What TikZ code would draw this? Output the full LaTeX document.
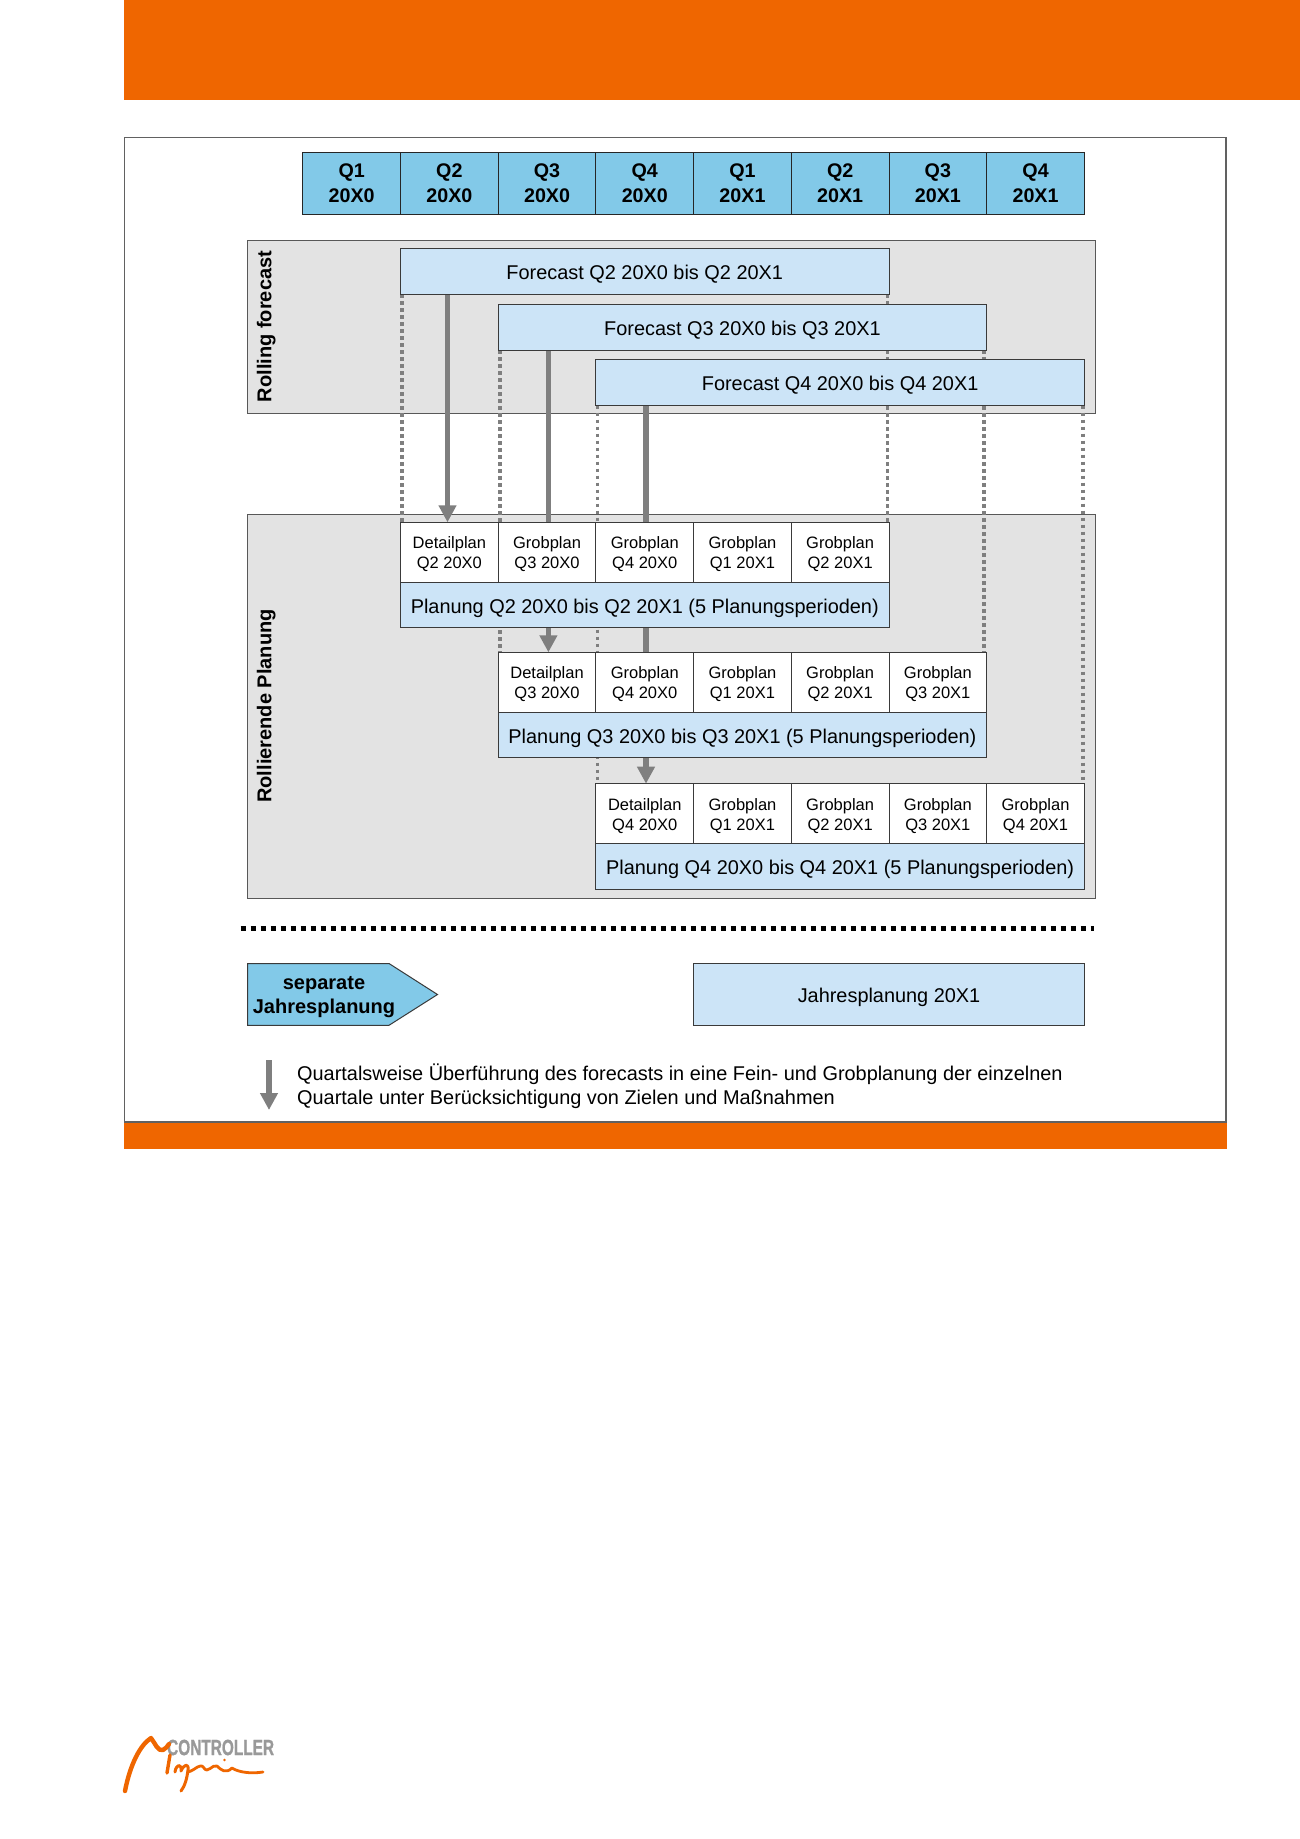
\documentclass[tikz,border=0pt]{standalone}
\usepackage{fontspec}
\setmainfont{Liberation Sans}
\usetikzlibrary{arrows.meta}
\definecolor{orng}{HTML}{EF6600}
\definecolor{hdr}{HTML}{82C9E8}
\definecolor{lblue}{HTML}{CCE4F7}
\definecolor{panel}{HTML}{E3E3E3}
\definecolor{darr}{HTML}{7F7F7F}
\definecolor{edge}{HTML}{3A3A3A}
\tikzset{
  x=1pt,y=-1pt,
  framebox/.style={draw=edge!80!white,line width=1.2pt,fill=white},
  panelbox/.style={draw=edge!85!white,line width=1pt,fill=panel,outer sep=0pt,inner sep=0pt,anchor=north west},
  qbox/.style={draw=black!85,line width=1pt,outer sep=0pt,fill=hdr,minimum width=97.7pt,minimum height=62pt,inner sep=0pt,align=center,font=\fontsize{19.7}{23.7}\selectfont\bfseries,anchor=north west},
  fcbox/.style={draw=edge,line width=1pt,outer sep=0pt,fill=lblue,minimum width=488.5pt,minimum height=46pt,inner sep=0pt,text height=16.5pt,text depth=0pt,font=\fontsize{19.9}{24}\selectfont,anchor=north west},
  cellbox/.style={draw=edge,line width=1pt,outer sep=0pt,fill=white,minimum width=97.7pt,minimum height=59.7pt,inner sep=0pt,align=center,font=\fontsize{16.5}{20}\selectfont,anchor=north west},
  planbox/.style={fcbox,minimum height=45.7pt},
  sidelabel/.style={rotate=90,font=\fontsize{20}{24}\selectfont\bfseries,inner sep=0pt},
  thickarrow/.style={draw=darr,line width=5.7pt,-{Triangle[length=17pt,width=17pt]}},
  dottedguide/.style={draw=darr,line width=3.2pt,dash pattern=on 3.5pt off 3.5pt},
  legendtext/.style={align=left,anchor=west,inner sep=0pt,font=\fontsize{19.9}{24}\selectfont},
  logostroke/.style={draw=orng,line cap=round,line join=round},
}
\begin{document}
\begin{tikzpicture}
\useasboundingbox (0,0) rectangle (1300,1839);
\fill[white] (0,0) rectangle (1300,1839);
% orange bars and frame
\fill[orng] (124.4,0) rectangle (1300,100);
\fill[orng] (124.4,1122) rectangle (1226.5,1149);
\draw[framebox] (124.8,137.5) rectangle (1226,1122);
% panels
\node[panelbox,minimum width=848pt,minimum height=173pt] (pR) at (247.7,240) {};
\node[panelbox,minimum width=848pt,minimum height=384pt] (pP) at (247.7,514) {};
\node[sidelabel] (lR) at (266.2,326.5) {Rolling forecast};
\node[sidelabel] (lP) at (266.2,706) {Rollierende Planung};
% coordinates for connectors
\coordinate (a1) at (447.5,522.3);
\coordinate (a2) at (548.4,652.3);
\coordinate (a3) at (646,783.7);
\coordinate (d1) at (402,522.3);
\coordinate (d2) at (500,652.3);
\coordinate (d3) at (597.5,783.7);
\coordinate (e1) at (887.5,522.3);
\coordinate (e2) at (984,652.3);
\coordinate (e3) at (1083,783.7);
\coordinate (s1) at (400.5,294.3);
\coordinate (s2) at (498.2,350);
\coordinate (s3) at (595.9,405.7);
% dotted guides and thick arrows (behind the boxes)
\draw[dottedguide] (s1 -| d1) -- (d1);
\draw[dottedguide] (s2 -| d2) -- (d2);
\draw[dottedguide] (s3 -| d3) -- (d3);
\draw[dottedguide] (s1 -| e1) -- (e1);
\draw[dottedguide] (s2 -| e2) -- (e2);
\draw[dottedguide] (s3 -| e3) -- (e3);
\draw[thickarrow] (s1 -| a1) -- (a1);
\draw[thickarrow] (s2 -| a2) -- (a2);
\draw[thickarrow] (s3 -| a3) -- (a3);
% quarter header
\foreach \i/\q/\y in {0/Q1/20X0,1/Q2/20X0,2/Q3/20X0,3/Q4/20X0,4/Q1/20X1,5/Q2/20X1,6/Q3/20X1,7/Q4/20X1}
  \node[qbox] (q\i) at ({302.8+\i*97.7},152.3) {\q\\[.6pt]\y};
% forecasts
\node[fcbox] (f1) at (400.5,248.3) {Forecast Q2 20X0 bis Q2 20X1};
\node[fcbox] (f2) at (498.2,304.2) {Forecast Q3 20X0 bis Q3 20X1};
\node[fcbox] (f3) at (595.9,359.7) {Forecast Q4 20X0 bis Q4 20X1};
% planning row 1
\foreach \i/\t/\q in {0/Detailplan/Q2 20X0,1/Grobplan/Q3 20X0,2/Grobplan/Q4 20X0,3/Grobplan/Q1 20X1,4/Grobplan/Q2 20X1}
  \node[cellbox] (ra\i) at ({400.5+\i*97.7},522.3) {\rule{0pt}{16.5pt}\t\\\q};
\node[planbox] (pa) at (400.5,582) {Planung Q2 20X0 bis Q2 20X1 (5 Planungsperioden)};
% planning row 2
\foreach \i/\t/\q in {0/Detailplan/Q3 20X0,1/Grobplan/Q4 20X0,2/Grobplan/Q1 20X1,3/Grobplan/Q2 20X1,4/Grobplan/Q3 20X1}
  \node[cellbox] (rb\i) at ({498.2+\i*97.7},652.3) {\rule{0pt}{16.5pt}\t\\\q};
\node[planbox] (pb) at (498.2,712) {Planung Q3 20X0 bis Q3 20X1 (5 Planungsperioden)};
% planning row 3
\foreach \i/\t/\q in {0/Detailplan/Q4 20X0,1/Grobplan/Q1 20X1,2/Grobplan/Q2 20X1,3/Grobplan/Q3 20X1,4/Grobplan/Q4 20X1}
  \node[cellbox] (rc\i) at ({595.9+\i*97.7},783.7) {\rule{0pt}{16.5pt}\t\\\q};
\node[planbox] (pc) at (595.9,843.4) {Planung Q4 20X0 bis Q4 20X1 (5 Planungsperioden)};
% separator
\draw[black,line width=5pt,dash pattern=on 5.5pt off 4.5pt] (240.5,928.7) -- (1094,928.7);
% annual planning
\draw[draw=edge,line width=1pt,fill=hdr] (247.7,963.5) -- (389,963.5) -- (437.5,994.5) -- (389,1025.3) -- (247.7,1025.3) -- cycle;
\node[align=center,inner sep=0pt,font=\fontsize{20}{23.7}\selectfont\bfseries] (sj) at (324,996.8) {separate\\Jahresplanung};
\node[fcbox,minimum width=391.3pt,minimum height=61.7pt] (jp) at (693.4,963.5) {Jahresplanung 20X1};
% legend
\coordinate (l1) at (269,1060);
\coordinate (l2) at (269,1110);
\draw[thickarrow] (l1) -- (l2);
\node[legendtext] (lt) at (297,1086.7) {Quartalsweise Überführung des forecasts in eine Fein- und Grobplanung der einzelnen\\Quartale unter Berücksichtigung von Zielen und Maßnahmen};
% logo
\node[anchor=west,inner sep=0pt,text=black!40,xscale=.70,transform shape,font=\fontsize{22}{22}\selectfont\bfseries\addfontfeature{FakeBold=1.2}] (logo) at (167,1747.5) {CONTROLLER};
\draw[logostroke,line width=4.4pt] (125,1791) .. controls (130,1765) and (140,1745) .. (151,1738) .. controls (155,1743) and (158,1752) .. (163,1750) .. controls (166,1749) and (167,1746) .. (169,1744);
\draw[logostroke,line width=3.4pt] (170,1755) -- (167,1773);
\draw[logostroke,line width=3pt] (175,1772) .. controls (176,1764) and (182,1763) .. (181,1771) .. controls (184,1764) and (189,1763) .. (188,1770) .. controls (187,1778) and (185,1786) .. (181,1791);
\draw[logostroke,line width=2.8pt] (188,1772) .. controls (196,1770) and (200,1762) .. (204,1768) .. controls (208,1774) and (212,1764) .. (217,1766) .. controls (221,1770) and (226,1774) .. (232,1768) .. controls (238,1772) and (250,1774) .. (263,1772);
\fill[orng] (224.5,1760) circle (1.4pt);
\end{tikzpicture}
\end{document}
